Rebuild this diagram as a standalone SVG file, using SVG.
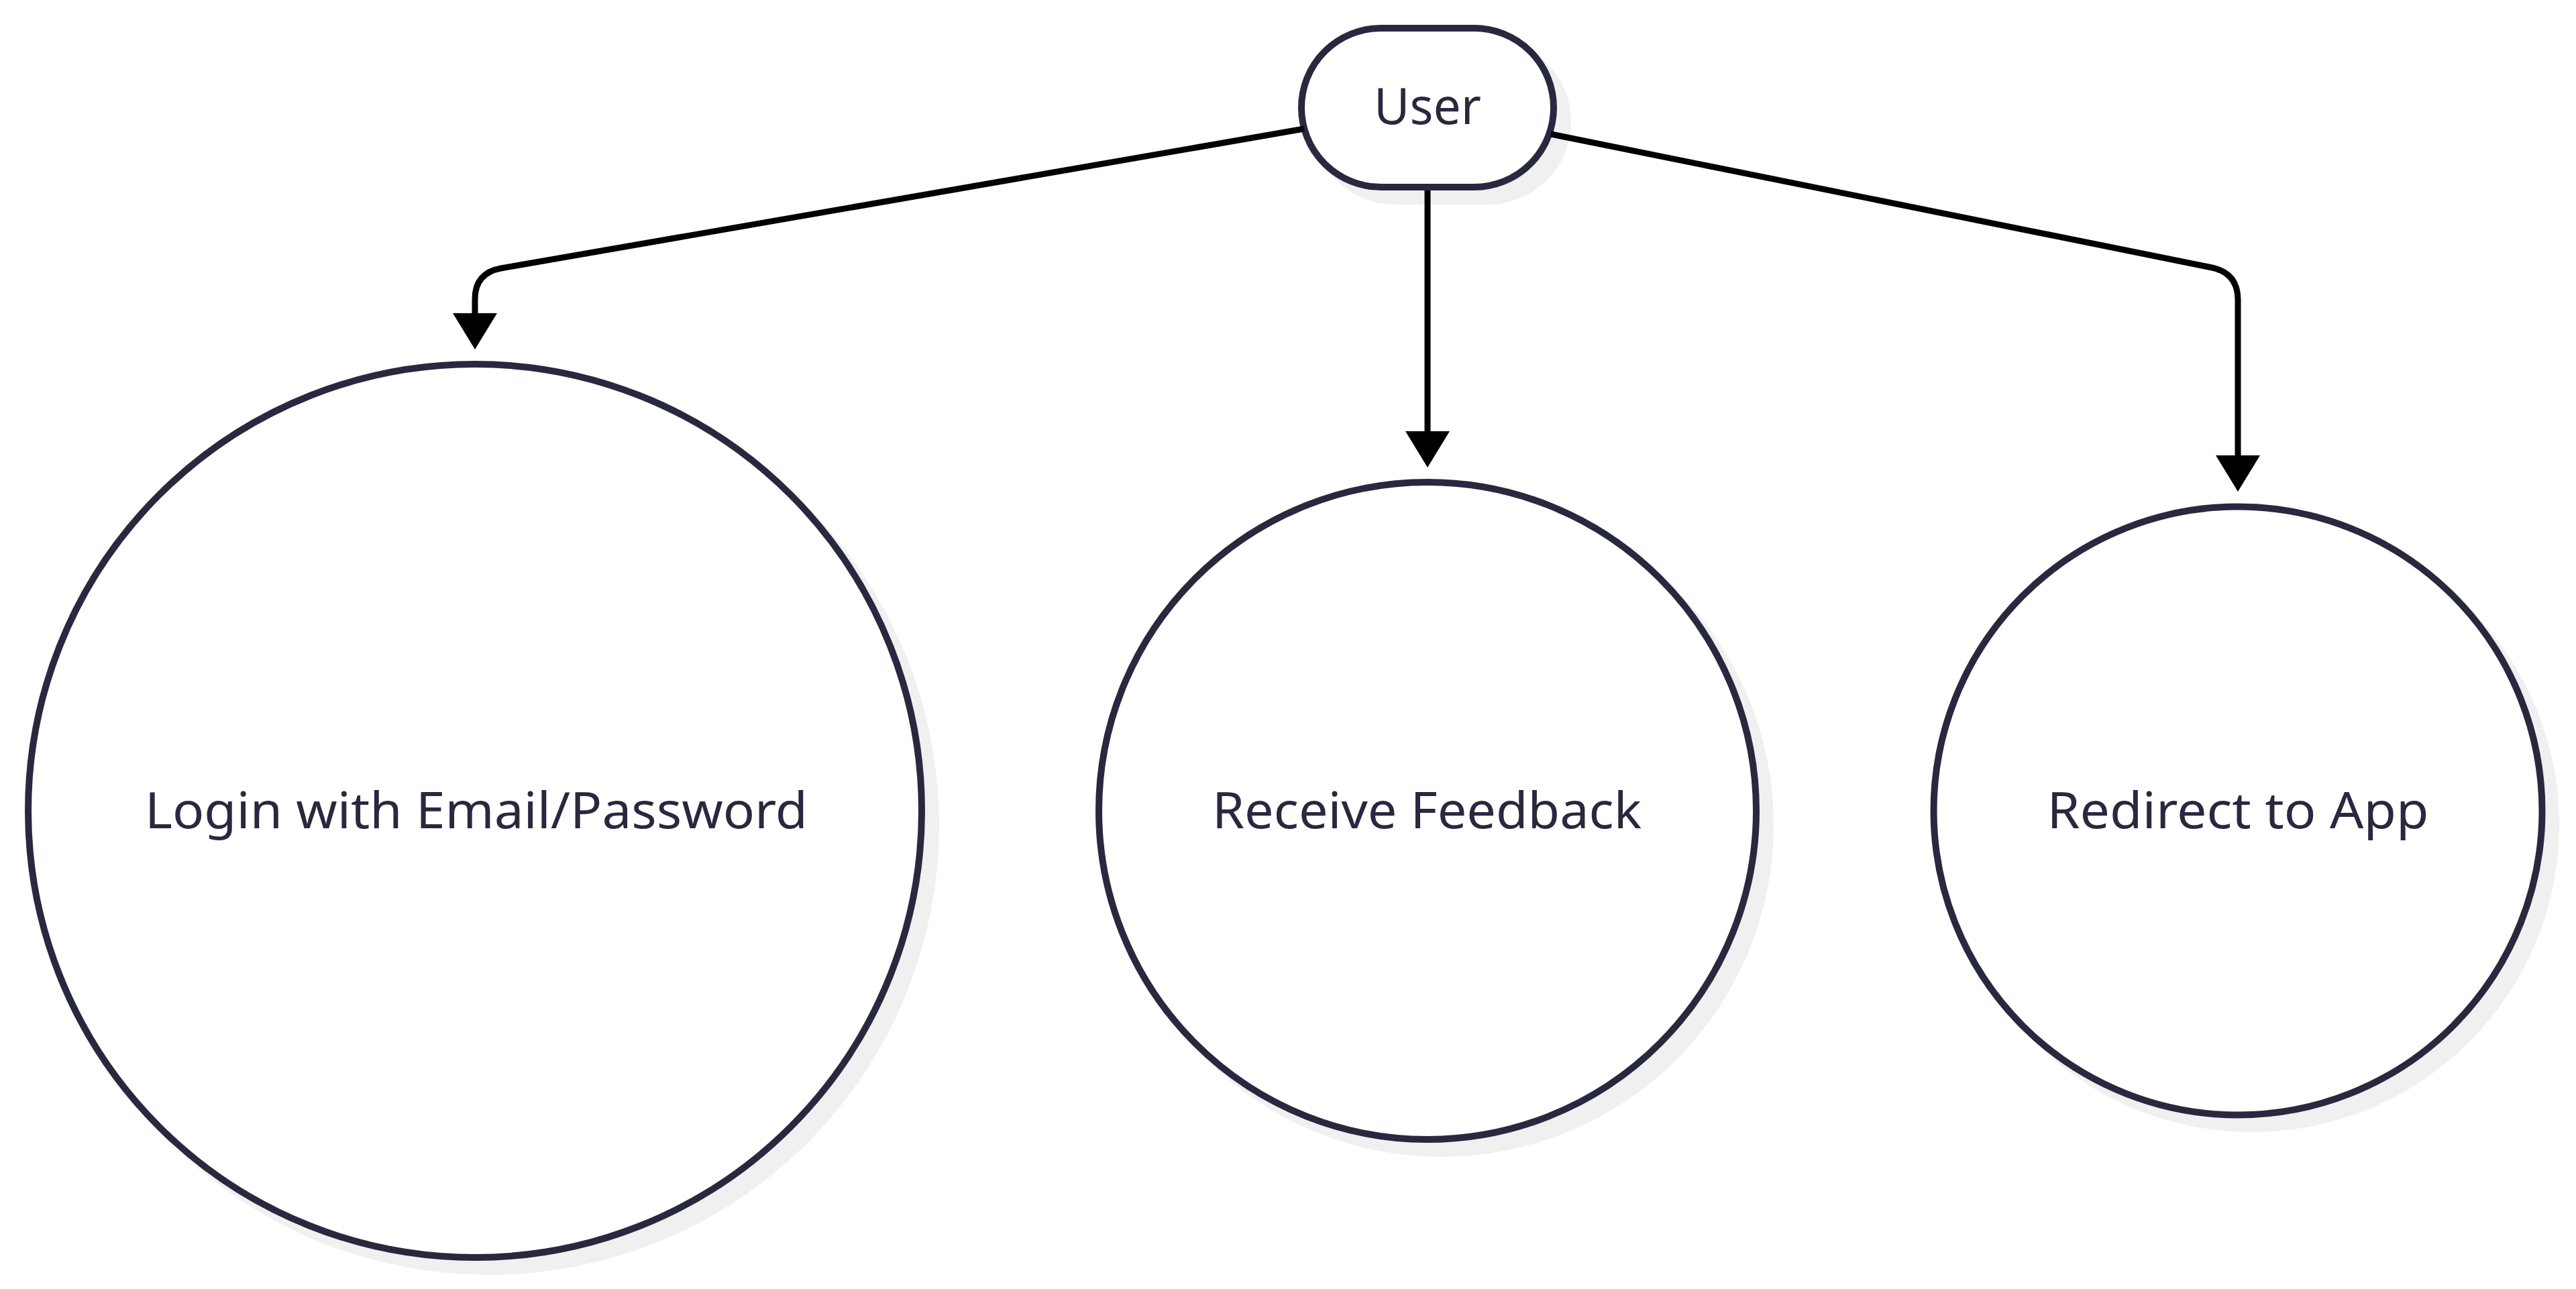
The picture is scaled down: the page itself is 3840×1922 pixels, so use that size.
<svg xmlns="http://www.w3.org/2000/svg" width="3840" height="1922" viewBox="0 0 3840 1922">
<style>
.shadow{fill:#f0f0f0;stroke:none}
.node{fill:#ffffff;stroke:#28283f;stroke-width:10}
.label{font-family:"Noto Sans","Open Sans","DejaVu Sans",sans-serif;font-size:74px;fill:#28283f;text-anchor:middle}
.edge{fill:none;stroke:#000000;stroke-width:9}
</style>
<defs>
<marker id="arrow" markerUnits="userSpaceOnUse" viewBox="0 0 54 66" refX="0" refY="33" markerWidth="54" markerHeight="66" orient="auto">
<path d="M0 0 L54 33 L0 66 z" fill="#000000"/>
</marker>
</defs>
<rect width="3840" height="1922" fill="#ffffff"/>
<g id="node-user">
<rect class="shadow" x="1956" y="58" width="386" height="247" rx="123.5"/>
<rect class="node" x="1940" y="42" width="376" height="237" rx="118.5"/>
<text class="label" x="2128" y="185" textLength="160" lengthAdjust="spacingAndGlyphs">User</text>
</g>
<g id="node-login">
<circle class="shadow" cx="729" cy="1230" r="671"/>
<circle class="node" cx="708" cy="1209" r="666"/>
<text class="label" x="710" y="1235" textLength="988" lengthAdjust="spacingAndGlyphs">Login with Email/Password</text>
</g>
<g id="node-feedback">
<circle class="shadow" cx="2149" cy="1230" r="495"/>
<circle class="node" cx="2128" cy="1209" r="490"/>
<text class="label" x="2127" y="1235" textLength="640" lengthAdjust="spacingAndGlyphs">Receive Feedback</text>
</g>
<g id="node-redirect">
<circle class="shadow" cx="3357" cy="1230" r="458"/>
<circle class="node" cx="3336" cy="1209" r="453.5"/>
<text class="label" x="3336" y="1235" textLength="569" lengthAdjust="spacingAndGlyphs">Redirect to App</text>
</g>
<g id="connectors">
<path class="edge" d="M1944 192 L747 400 Q708 407 708 446 L708 467" marker-end="url(#arrow)"/>
<path class="edge" d="M2128 284 L2128 643" marker-end="url(#arrow)"/>
<path class="edge" d="M2312 200 L3297 399 Q3336 407 3336 447 L3336 679" marker-end="url(#arrow)"/>
</g>
</svg>
